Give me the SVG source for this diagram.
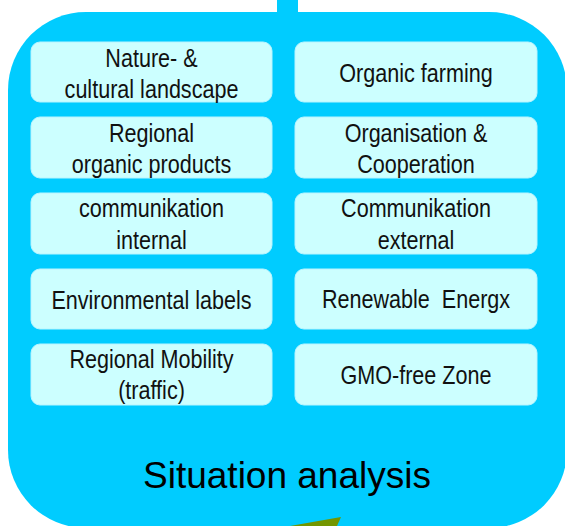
<svg xmlns="http://www.w3.org/2000/svg" width="565" height="526" viewBox="0 0 565 526">
<style>
.box{fill:#ccffff;stroke:#b8f4ff;stroke-width:1}
.t{font-family:"Liberation Sans",Arial,sans-serif;font-size:26px;fill:#111;text-anchor:middle}
.title{font-family:"Liberation Sans",Arial,sans-serif;font-size:37px;fill:#000;text-anchor:middle}
</style>
<rect x="0" y="0" width="565" height="526" fill="#ffffff"/>
<g id="connectors">
<rect x="277" y="0" width="21" height="14" fill="#00ccff"/>
</g>
<g id="situation-analysis">
<rect x="8" y="12" width="559" height="516" rx="78" ry="78" fill="#00ccff"/>
<text class="title" x="287" y="488">Situation analysis</text>
</g>
<g id="arrow-out">
<polygon points="290,526 341,517 337,526" fill="#739600"/>
</g>
<g id="n1">
<rect class="box" x="31" y="42" width="241" height="60" rx="9"/>
<g transform="translate(151.5,0) scale(0.83,1)">
<text class="t" x="0" y="67">Nature- &amp;</text>
<text class="t" x="0" y="98">cultural landscape</text>
</g>
</g>
<g id="n2">
<rect class="box" x="295" y="42" width="242" height="60" rx="9"/>
<g transform="translate(416,0) scale(0.83,1)">
<text class="t" x="0" y="82">Organic farming</text>
</g>
</g>
<g id="n3">
<rect class="box" x="31" y="117" width="241" height="61" rx="9"/>
<g transform="translate(151.5,0) scale(0.83,1)">
<text class="t" x="0" y="142">Regional</text>
<text class="t" x="0" y="173">organic products</text>
</g>
</g>
<g id="n4">
<rect class="box" x="295" y="117" width="242" height="61" rx="9"/>
<g transform="translate(416,0) scale(0.83,1)">
<text class="t" x="0" y="142">Organisation &amp;</text>
<text class="t" x="0" y="173">Cooperation</text>
</g>
</g>
<g id="n5">
<rect class="box" x="31" y="193" width="241" height="61" rx="9"/>
<g transform="translate(151.5,0) scale(0.83,1)">
<text class="t" x="0" y="217">communikation</text>
<text class="t" x="0" y="249">internal</text>
</g>
</g>
<g id="n6">
<rect class="box" x="295" y="193" width="242" height="61" rx="9"/>
<g transform="translate(416,0) scale(0.83,1)">
<text class="t" x="0" y="217">Communikation</text>
<text class="t" x="0" y="249">external</text>
</g>
</g>
<g id="n7">
<rect class="box" x="31" y="269" width="241" height="60" rx="9"/>
<g transform="translate(151.5,0) scale(0.83,1)">
<text class="t" x="0" y="309">Environmental labels</text>
</g>
</g>
<g id="n8">
<rect class="box" x="295" y="269" width="242" height="60" rx="9"/>
<g transform="translate(416,0) scale(0.83,1)">
<text class="t" x="0" y="308" xml:space="preserve">Renewable  Energx</text>
</g>
</g>
<g id="n9">
<rect class="box" x="31" y="344" width="241" height="61" rx="9"/>
<g transform="translate(151.5,0) scale(0.83,1)">
<text class="t" x="0" y="368">Regional Mobility</text>
<text class="t" x="0" y="399">(traffic)</text>
</g>
</g>
<g id="n10">
<rect class="box" x="295" y="344" width="242" height="61" rx="9"/>
<g transform="translate(416,0) scale(0.83,1)">
<text class="t" x="0" y="384">GMO-free Zone</text>
</g>
</g>
</svg>
